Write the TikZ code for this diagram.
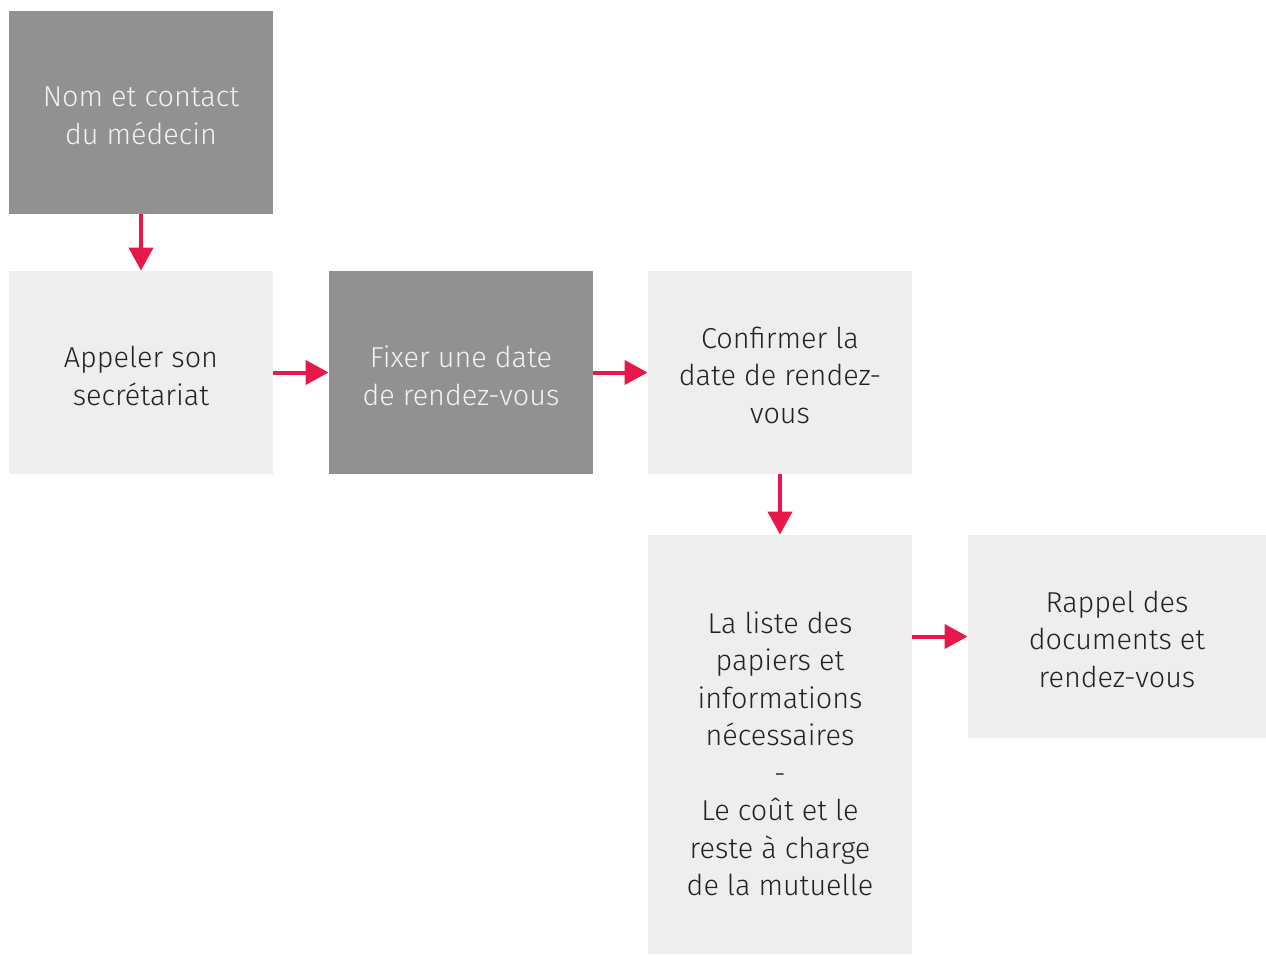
\documentclass[tikz,border=0pt]{standalone}
\usepackage{fontspec}
\setmainfont{Fira Sans}[UprightFont=* Light]
\usetikzlibrary{arrows.meta}
\definecolor{darkbox}{HTML}{919191}
\definecolor{lightbox}{HTML}{EEEEEE}
\definecolor{arrred}{HTML}{E8194A}
\definecolor{txtdark}{HTML}{222222}
\definecolor{txtlight}{HTML}{F2F2F2}
\begin{document}
\begin{tikzpicture}[x=0.5pt,y=-0.5pt,
  boxbase/.style={rectangle,inner sep=0pt,draw=none,
    minimum width=132pt,minimum height=101.5pt},
  darkstep/.style={boxbase,fill=darkbox},
  lightstep/.style={boxbase,fill=lightbox},
  steptext/.style={align=center,inner sep=0pt,font=\fontsize{14.4}{18.75}\selectfont},
  darktext/.style={steptext,text=txtlight},
  lighttext/.style={steptext,text=txtdark},
  flow/.style={draw=arrred,line width=2pt,-{Triangle[length=11.5pt,width=12pt]}}]
\useasboundingbox (0,0) rectangle (1266,955);
\node[darkstep] (b1) at (141,112.5) {};
\node[darktext] (t1) at (141,116) {Nom et contact\\du médecin};
\node[lightstep] (b2) at (141,372.5) {};
\node[lighttext] (t2) at (141,376) {Appeler son\\secrétariat};
\node[darkstep] (b3) at (461,372.5) {};
\node[darktext] (t3) at (461,376) {Fixer une date\\de rendez-vous};
\node[lightstep] (b4) at (780,372.5) {};
\node[lighttext] (t4) at (780,375) {Confirmer la\\date de rendez-\\vous};
\node[lightstep,minimum height=209.5pt] (b5) at (780,744.5) {};
\node[lighttext] (t5) at (780,754)
  {La liste des\\papiers et\\informations\\nécessaires\\-\\Le coût et le\\reste à charge\\de la mutuelle};
\node[lightstep,minimum width=149pt] (b6) at (1117,636.5) {};
\node[lighttext] (t6) at (1117,639) {Rappel des\\documents et\\rendez-vous};
\draw[flow] (b1.south) -- (b2.north);
\draw[flow] (b2.east) -- (b3.west);
\draw[flow] (b3.east) -- (b4.west);
\draw[flow] (b4.south) -- (b5.north);
\draw[flow] (b5.east |- b6.west) -- (b6.west);
\end{tikzpicture}
\end{document}
